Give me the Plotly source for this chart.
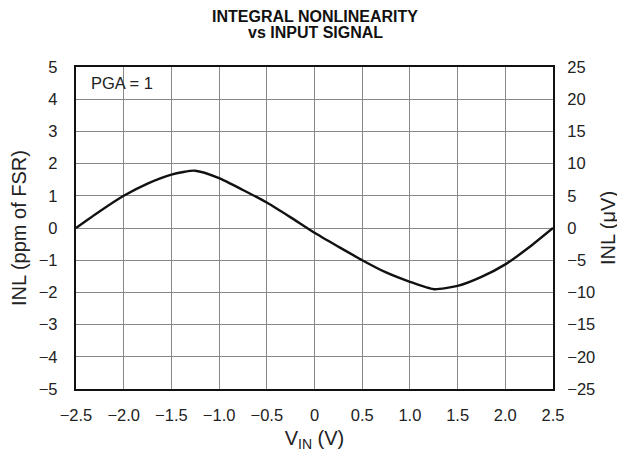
import plotly.graph_objects as go

vin = [-2.5, -2.25, -2.0, -1.75, -1.5, -1.25, -1.0, -0.75, -0.5, -0.25, 0.0,
       0.25, 0.5, 0.75, 1.0, 1.25, 1.5, 1.75, 2.0, 2.25, 2.5]
inl_ppm = [0.0, 0.52, 1.0, 1.38, 1.66, 1.78, 1.55, 1.18, 0.79, 0.33, -0.15,
           -0.58, -1.0, -1.38, -1.67, -1.9, -1.80, -1.52, -1.13, -0.6, 0.0]

x_ticks = [-2.5, -2.0, -1.5, -1.0, -0.5, 0, 0.5, 1.0, 1.5, 2.0, 2.5]
x_tick_text = ["−2.5", "−2.0", "−1.5", "−1.0", "−0.5", "0", "0.5", "1.0", "1.5", "2.0", "2.5"]
y_ticks = [-5, -4, -3, -2, -1, 0, 1, 2, 3, 4, 5]
y2_ticks = [-25, -20, -15, -10, -5, 0, 5, 10, 15, 20, 25]

FAM = "Liberation Sans, Arial, sans-serif"
FS = 16.5

# page has an 8px body margin, so figure is 8px smaller and shifted
W, H = 617, 451
L, R, T, B = 68, 72, 59, 70
PW, PH = W - L - R, H - T - B

def px(xp):  # page x -> paper x
    return (xp - 8 - L) / PW

def py(yp):  # page y -> paper y
    return 1 - (yp - 8 - T) / PH

fig = go.Figure()
fig.add_trace(go.Scatter(x=vin, y=inl_ppm, mode="lines",
                         line=dict(color="#111", width=2.4, shape="spline", smoothing=0.6),
                         showlegend=False, hoverinfo="skip"))
fig.add_trace(go.Scatter(x=[vin[0]], y=[0], yaxis="y2", mode="markers",
                         marker=dict(opacity=0), showlegend=False, hoverinfo="skip"))

fig.update_layout(
    width=W, height=H,
    margin=dict(l=L, r=R, t=T, b=B, autoexpand=False),
    paper_bgcolor="white", plot_bgcolor="white",
    font=dict(family=FAM, size=FS, color="#222"),
    xaxis=dict(range=[-2.5, 2.5], tickvals=x_ticks, ticktext=x_tick_text,
               showgrid=True, gridcolor="#888", gridwidth=1,
               showline=True, linecolor="#111", linewidth=2.4, mirror=True,
               ticks="outside", ticklen=10, tickcolor="rgba(0,0,0,0)",
               zeroline=False, automargin=False,
               title=dict(text="V<sub>IN</sub> (V)", standoff=8)),
    yaxis=dict(range=[-5, 5], tickvals=y_ticks,
               showgrid=True, gridcolor="#888", gridwidth=1,
               showline=True, linecolor="#111", linewidth=2.4, mirror=True,
               ticks="outside", ticklen=13, tickcolor="rgba(0,0,0,0)",
               zeroline=False, automargin=False,
               title=dict(text="INL (ppm of FSR)", standoff=14)),
    yaxis2=dict(range=[-25, 25], tickvals=y2_ticks, overlaying="y", side="right",
                showgrid=False, zeroline=False, automargin=False,
                ticks="outside", ticklen=10, tickcolor="rgba(0,0,0,0)",
                title=dict(text="INL (μV)", standoff=6)),
)

fig.add_annotation(text="<b>INTEGRAL NONLINEARITY</b>", xref="paper", yref="paper",
                   x=px(315), y=py(16), xanchor="center", yanchor="middle", showarrow=False,
                   height=16, font=dict(family=FAM, size=16, color="#111"))
fig.add_annotation(text="<b>vs INPUT SIGNAL</b>", xref="paper", yref="paper",
                   x=px(315), y=py(32.5), xanchor="center", yanchor="middle", showarrow=False,
                   height=16, font=dict(family=FAM, size=16, color="#111"))
fig.add_annotation(text="PGA = 1", x=-2.36, y=4.5, xref="x", yref="y",
                   xanchor="left", yanchor="middle", showarrow=False,
                   font=dict(family=FAM, size=FS, color="#222"))

fig.write_html("out.html")
